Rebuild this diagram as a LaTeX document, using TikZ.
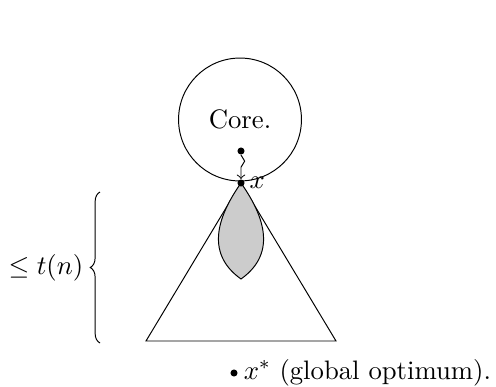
\documentclass[11pt,tikz,border=0pt]{standalone}
\usepackage{amsmath,amssymb}
\usepackage{xcolor}
\usepackage{tikz}
\usetikzlibrary{decorations.pathreplacing,decorations.pathmorphing}

\begin{document}
\begin{tikzpicture}[x={(0.41pt,0pt)},y={(0pt,-0.41pt)},dot/.style={circle,fill=black,inner sep=0pt,minimum size=2.9pt}]
\useasboundingbox (0,0) rectangle (496,386);
\node[draw,circle,minimum size=50.4pt] (core) at (240,119.5) {Core.};
\coordinate (apex) at (241,183);
\coordinate (left) at (146,341);
\coordinate (right) at (336,341);
\coordinate (tip) at (241,279);
\draw (apex) -- (left) -- (right) -- cycle;
\draw[fill={rgb,255:red,204;green,204;blue,204}] (apex) .. controls (220,213) and (203,252) .. (tip) .. controls (279,252) and (262,213) .. (apex);
\node[dot] (start) at (241,151) {};
\node[dot,label={[label distance=-2pt]right:$x$}] (x) at (apex) {};
\draw[->,decorate,decoration={snake,amplitude=1.5pt,segment length=8pt,post length=3pt}] (start) -- (x);
\coordinate (bracebot) at (100,343);
\coordinate (bracetop) at (100,192);
\draw[decorate,decoration={brace,amplitude=4pt}] (bracebot) -- (bracetop) node[midway,left=3pt] (bound) {$\leq t(n)$};
\node[dot,label={[label distance=-1.5pt]right:$x^*$ (global optimum).}] (xstar) at (234,373) {};
\end{tikzpicture}
\end{document}
